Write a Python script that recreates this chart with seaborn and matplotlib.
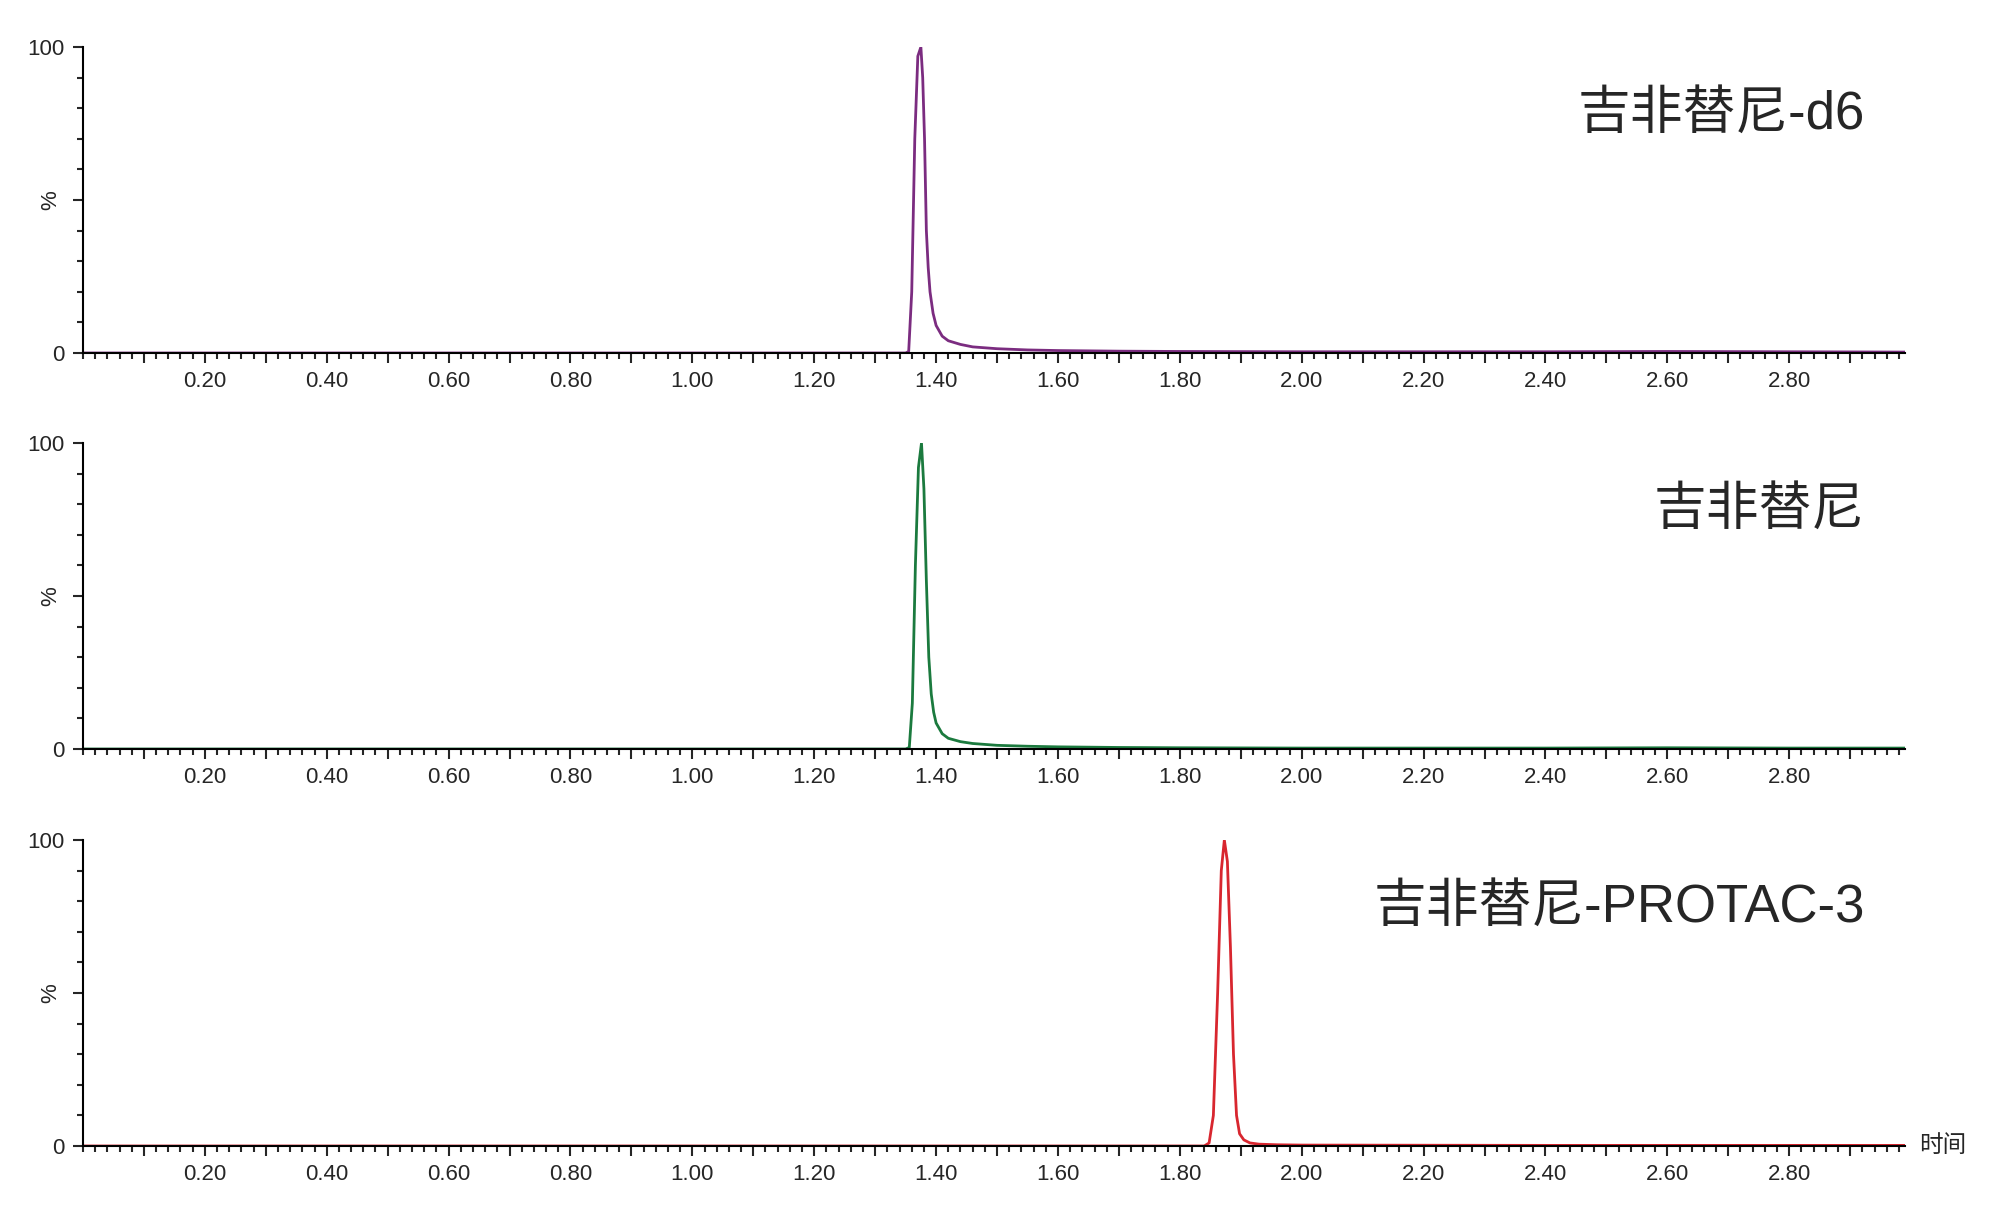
import numpy as np
import pandas as pd
import matplotlib.pyplot as plt
from matplotlib.ticker import MultipleLocator
import seaborn as sns

# 色谱图数据 (时间, 相对强度 %)
t_d6 = [0.0, 1.350, 1.355, 1.360, 1.365, 1.370, 1.375, 1.378, 1.381, 1.384, 1.387, 1.390, 1.395,
        1.400, 1.410, 1.420, 1.440, 1.460, 1.500, 1.550, 1.600, 1.700, 1.800, 2.000, 2.400, 2.600, 2.800, 2.990]
y_d6 = [0.0, 0.0, 0.5, 20.0, 70.0, 97.0, 100.0, 90.0, 70.0, 40.0, 28.0, 20.0, 13.0,
        9.0, 5.5, 4.0, 2.8, 2.0, 1.4, 1.0, 0.8, 0.6, 0.5, 0.4, 0.4, 0.5, 0.4, 0.3]

t_gef = [0.0, 1.350, 1.356, 1.361, 1.366, 1.371, 1.376, 1.380, 1.384, 1.388, 1.392, 1.396,
         1.400, 1.410, 1.420, 1.440, 1.460, 1.500, 1.550, 1.600, 1.700, 1.800, 2.000, 2.400, 2.600, 2.800, 2.990]
y_gef = [0.0, 0.0, 0.5, 15.0, 60.0, 92.0, 100.0, 85.0, 55.0, 30.0, 18.0, 12.0,
         8.5, 5.0, 3.5, 2.4, 1.8, 1.2, 0.9, 0.7, 0.5, 0.4, 0.3, 0.3, 0.4, 0.3, 0.3]

t_pro = [0.0, 1.840, 1.848, 1.855, 1.862, 1.868, 1.873, 1.878, 1.883, 1.888, 1.893, 1.898,
         1.905, 1.915, 1.930, 1.960, 2.000, 2.400, 2.990]
y_pro = [0.0, 0.0, 1.0, 10.0, 50.0, 90.0, 100.0, 93.0, 65.0, 30.0, 10.0, 4.0,
         2.0, 1.0, 0.6, 0.4, 0.3, 0.2, 0.2]

names = ['吉非替尼-d6', '吉非替尼', '吉非替尼-PROTAC-3']
colors = ['#7B2C80', '#1B7A3E', '#D8262F']
series = [(t_d6, y_d6), (t_gef, y_gef), (t_pro, y_pro)]

sns.set_style('white')
plt.rcParams['font.family'] = ['Liberation Sans', 'Noto Sans CJK SC', 'DejaVu Sans']

fig = plt.figure(figsize=(20, 12.32), dpi=100)
bottoms = [1232 - 353, 1232 - 749, 1232 - 1146]
for i, ((t, y), name, c) in enumerate(zip(series, names, colors)):
    ax = fig.add_axes([83 / 2000, bottoms[i] / 1232, (1905 - 83) / 2000, 306 / 1232])
    df = pd.DataFrame({'时间': t, '%': y})
    sns.lineplot(data=df, x='时间', y='%', color=c, lw=2, ax=ax)
    ax.set_xlim(0, 2.99)
    ax.set_ylim(0, 100)
    ax.set_xlabel('')
    ax.set_ylabel('%', fontsize=16)
    ax.yaxis.set_label_coords(-0.012, 0.5)
    ax.xaxis.set_minor_locator(MultipleLocator(0.02))
    ax.set_xticks(np.arange(0.1, 2.95, 0.1))
    ax.set_xticklabels([f'{v:.2f}' if round(v * 10) % 2 == 0 else '' for v in np.arange(0.1, 2.95, 0.1)])
    ax.yaxis.set_minor_locator(MultipleLocator(10))
    ax.set_yticks([0, 50, 100])
    ax.set_yticklabels(['0', '', '100'])
    ax.tick_params(axis='both', which='major', direction='out', length=7, width=1.5, labelsize=16, bottom=True, left=True, pad=6)
    ax.tick_params(axis='both', which='minor', direction='out', length=4, width=1.5, bottom=True, left=True)
    for s in ['top', 'right']:
        ax.spines[s].set_visible(False)
    for s in ['left', 'bottom']:
        ax.spines[s].set_color('black')
        ax.spines[s].set_linewidth(1.5)
    ax.text(0.978, 0.78, name, transform=ax.transAxes, fontsize=38, ha='right', va='center')
    if i == 2:
        ax.text(1.008, 0.0, '时间', transform=ax.transAxes, fontsize=17, ha='left', va='center')

fig.savefig('out.png', dpi=100)
